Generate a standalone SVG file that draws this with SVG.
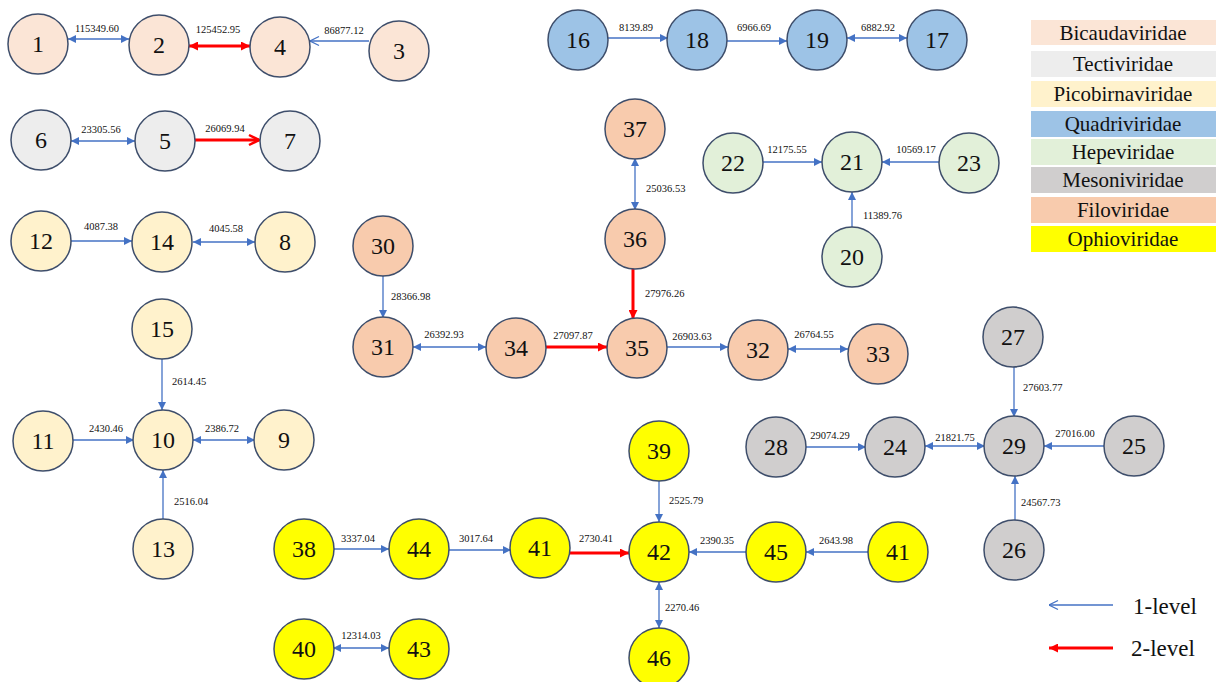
<svg xmlns="http://www.w3.org/2000/svg" width="1216" height="682" viewBox="0 0 1216 682">
<style>
text{font-family:"Liberation Serif","Times New Roman",serif;fill:#111}
.n circle{stroke:#3E4E6B;stroke-width:1.5}
.n text{font-size:24px;text-anchor:middle;dominant-baseline:central}
.bic circle{fill:#FBE5D6}.tec circle{fill:#EDEDED}.pic circle{fill:#FFF2CC}.qua circle{fill:#9DC3E6}
.hep circle{fill:#E2F0D9}.mes circle{fill:#D0CECE}.fil circle{fill:#F8CBAD}.oph circle{fill:#FFFF00}
.b{stroke:#4472C4;stroke-width:1.3;fill:none}
.r{stroke:#FF0000;stroke-width:3;fill:none}
.bf{marker-end:url(#ab)}.bb{marker-start:url(#ab);marker-end:url(#ab)}.bo{marker-end:url(#abo)}
.rf{marker-end:url(#ar)}.rb{marker-start:url(#ar);marker-end:url(#ar)}.ro{marker-end:url(#aro)}
.lbl{font-size:10.5px;text-anchor:middle}
.lbs{font-size:10.5px;text-anchor:start}
.leg text{font-size:21px;text-anchor:middle;dominant-baseline:central}
</style>
<defs>
<marker id="ab" viewBox="0 0 10 10" refX="10" refY="5" markerUnits="userSpaceOnUse" markerWidth="9" markerHeight="8" orient="auto-start-reverse"><path d="M0,0 L10,5 L0,10 z" fill="#4472C4"/></marker>
<marker id="abo" viewBox="0 0 10 10" refX="10" refY="5" markerUnits="userSpaceOnUse" markerWidth="10" markerHeight="12" orient="auto-start-reverse"><path d="M1,0.5 L10,5 L1,9.5" fill="none" stroke="#4472C4" stroke-width="1.3"/></marker>
<marker id="ar" viewBox="0 0 10 10" refX="10" refY="5" markerUnits="userSpaceOnUse" markerWidth="10" markerHeight="9" orient="auto-start-reverse"><path d="M0,0 L10,5 L0,10 z" fill="#FF0000"/></marker>
<marker id="aro" viewBox="0 0 12 12" refX="11" refY="6" markerUnits="userSpaceOnUse" markerWidth="12" markerHeight="14" orient="auto"><path d="M1,1 L11,6 L1,11" fill="none" stroke="#FF0000" stroke-width="2.5"/></marker>
</defs>
<rect width="1216" height="682" fill="#fff"/>
<g id="connectors">
<line class="b bb" x1="68" y1="39" x2="129" y2="39"/>
<line class="r rb" x1="189" y1="46" x2="250" y2="46"/>
<line class="b bo" x1="369" y1="41" x2="310" y2="41"/>
<line class="b bb" x1="71" y1="141" x2="135" y2="141"/>
<line class="r ro" x1="195" y1="140" x2="259" y2="140"/>
<line class="b bf" x1="70" y1="241" x2="132" y2="241"/>
<line class="b bb" x1="193" y1="242" x2="255" y2="242"/>
<line class="b bf" x1="162" y1="358" x2="162" y2="410"/>
<line class="b bf" x1="73" y1="440" x2="134" y2="440"/>
<line class="b bb" x1="193" y1="440" x2="255" y2="440"/>
<line class="b bf" x1="163" y1="520" x2="163" y2="470"/>
<line class="b bf" x1="607" y1="38" x2="668" y2="38"/>
<line class="b bf" x1="727" y1="41" x2="787" y2="41"/>
<line class="b bb" x1="847" y1="38" x2="907" y2="38"/>
<line class="b bb" x1="635" y1="158" x2="635" y2="210"/>
<line class="r rf" x1="633" y1="268" x2="633" y2="319"/>
<line class="b bf" x1="383" y1="275" x2="383" y2="318"/>
<line class="b bb" x1="413" y1="347" x2="486" y2="347"/>
<line class="r rf" x1="545" y1="347" x2="607" y2="347"/>
<line class="b bf" x1="667" y1="347" x2="728" y2="347"/>
<line class="b bb" x1="788" y1="349" x2="848" y2="349"/>
<line class="b bf" x1="763" y1="162" x2="822" y2="162"/>
<line class="b bf" x1="939" y1="162" x2="882" y2="162"/>
<line class="b bf" x1="852" y1="227" x2="852" y2="192"/>
<line class="b bf" x1="1014" y1="367" x2="1014" y2="417"/>
<line class="b bf" x1="806" y1="447" x2="866" y2="447"/>
<line class="b bb" x1="925" y1="446" x2="985" y2="446"/>
<line class="b bf" x1="1104" y1="446" x2="1044" y2="446"/>
<line class="b bf" x1="1015" y1="520" x2="1015" y2="476"/>
<line class="b bf" x1="659" y1="481" x2="659" y2="522"/>
<line class="b bf" x1="333" y1="549" x2="389" y2="549"/>
<line class="b bf" x1="448" y1="550" x2="511" y2="550"/>
<line class="r rf" x1="570" y1="553" x2="629" y2="553"/>
<line class="b bf" x1="746" y1="552" x2="689" y2="552"/>
<line class="b bf" x1="868" y1="552" x2="806" y2="552"/>
<line class="b bb" x1="659" y1="582" x2="659" y2="628"/>
<line class="b bb" x1="333" y1="648" x2="389" y2="648"/>
</g>
<g id="labels">
<text class="lbl" x="97" y="32">115349.60</text>
<text class="lbl" x="218" y="33">125452.95</text>
<text class="lbl" x="344" y="34">86877.12</text>
<text class="lbl" x="101" y="133">23305.56</text>
<text class="lbl" x="225" y="132">26069.94</text>
<text class="lbl" x="101" y="230">4087.38</text>
<text class="lbl" x="226" y="232">4045.58</text>
<text class="lbs" x="172" y="385">2614.45</text>
<text class="lbl" x="106" y="432">2430.46</text>
<text class="lbl" x="222" y="432">2386.72</text>
<text class="lbs" x="174" y="505">2516.04</text>
<text class="lbl" x="636" y="31">8139.89</text>
<text class="lbl" x="754" y="31">6966.69</text>
<text class="lbl" x="878" y="31">6882.92</text>
<text class="lbs" x="646" y="192">25036.53</text>
<text class="lbs" x="645" y="297">27976.26</text>
<text class="lbs" x="391" y="300">28366.98</text>
<text class="lbl" x="444" y="338">26392.93</text>
<text class="lbl" x="573" y="339">27097.87</text>
<text class="lbl" x="692" y="340">26903.63</text>
<text class="lbl" x="814" y="338">26764.55</text>
<text class="lbl" x="787" y="153">12175.55</text>
<text class="lbl" x="916" y="153">10569.17</text>
<text class="lbs" x="863" y="219">11389.76</text>
<text class="lbs" x="1023" y="391">27603.77</text>
<text class="lbl" x="830" y="439">29074.29</text>
<text class="lbl" x="955" y="441">21821.75</text>
<text class="lbl" x="1075" y="437">27016.00</text>
<text class="lbs" x="1021" y="506">24567.73</text>
<text class="lbs" x="669" y="504">2525.79</text>
<text class="lbl" x="358" y="542">3337.04</text>
<text class="lbl" x="476" y="542">3017.64</text>
<text class="lbl" x="596" y="542">2730.41</text>
<text class="lbl" x="717" y="544">2390.35</text>
<text class="lbl" x="836" y="544">2643.98</text>
<text class="lbs" x="665" y="611">2270.46</text>
<text class="lbl" x="361" y="639">12314.03</text>
</g>
<g id="n1" class="n bic"><circle cx="38" cy="44" r="30"/><text x="38" y="44">1</text></g>
<g id="n2" class="n bic"><circle cx="159" cy="45" r="30"/><text x="159" y="45">2</text></g>
<g id="n4" class="n bic"><circle cx="280" cy="47" r="30"/><text x="280" y="47">4</text></g>
<g id="n3" class="n bic"><circle cx="399" cy="51" r="30"/><text x="399" y="51">3</text></g>
<g id="n6" class="n tec"><circle cx="41" cy="140" r="30"/><text x="41" y="140">6</text></g>
<g id="n5" class="n tec"><circle cx="165" cy="141" r="30"/><text x="165" y="141">5</text></g>
<g id="n7" class="n tec"><circle cx="290" cy="141" r="30"/><text x="290" y="141">7</text></g>
<g id="n12" class="n pic"><circle cx="41" cy="241" r="30"/><text x="41" y="241">12</text></g>
<g id="n14" class="n pic"><circle cx="162" cy="242" r="30"/><text x="162" y="242">14</text></g>
<g id="n8" class="n pic"><circle cx="285" cy="242" r="30"/><text x="285" y="242">8</text></g>
<g id="n15" class="n pic"><circle cx="162" cy="329" r="30"/><text x="162" y="329">15</text></g>
<g id="n11" class="n pic"><circle cx="43" cy="441" r="30"/><text x="43" y="441">11</text></g>
<g id="n10" class="n pic"><circle cx="163" cy="440" r="30"/><text x="163" y="440">10</text></g>
<g id="n9" class="n pic"><circle cx="284" cy="440" r="30"/><text x="284" y="440">9</text></g>
<g id="n13" class="n pic"><circle cx="163" cy="549" r="30"/><text x="163" y="549">13</text></g>
<g id="n16" class="n qua"><circle cx="578" cy="40" r="30"/><text x="578" y="40">16</text></g>
<g id="n18" class="n qua"><circle cx="697" cy="40" r="30"/><text x="697" y="40">18</text></g>
<g id="n19" class="n qua"><circle cx="817" cy="40" r="30"/><text x="817" y="40">19</text></g>
<g id="n17" class="n qua"><circle cx="937" cy="40" r="30"/><text x="937" y="40">17</text></g>
<g id="n37" class="n fil"><circle cx="635" cy="129" r="30"/><text x="635" y="129">37</text></g>
<g id="n36" class="n fil"><circle cx="635" cy="239" r="30"/><text x="635" y="239">36</text></g>
<g id="n30" class="n fil"><circle cx="383" cy="246" r="30"/><text x="383" y="246">30</text></g>
<g id="n31" class="n fil"><circle cx="383" cy="347" r="30"/><text x="383" y="347">31</text></g>
<g id="n34" class="n fil"><circle cx="516" cy="348" r="30"/><text x="516" y="348">34</text></g>
<g id="n35" class="n fil"><circle cx="637" cy="348" r="30"/><text x="637" y="348">35</text></g>
<g id="n32" class="n fil"><circle cx="758" cy="350" r="30"/><text x="758" y="350">32</text></g>
<g id="n33" class="n fil"><circle cx="878" cy="354" r="30"/><text x="878" y="354">33</text></g>
<g id="n22" class="n hep"><circle cx="733" cy="163" r="30"/><text x="733" y="163">22</text></g>
<g id="n21" class="n hep"><circle cx="852" cy="162" r="30"/><text x="852" y="162">21</text></g>
<g id="n23" class="n hep"><circle cx="969" cy="163" r="30"/><text x="969" y="163">23</text></g>
<g id="n20" class="n hep"><circle cx="852" cy="257" r="30"/><text x="852" y="257">20</text></g>
<g id="n27" class="n mes"><circle cx="1013" cy="337" r="30"/><text x="1013" y="337">27</text></g>
<g id="n28" class="n mes"><circle cx="776" cy="447" r="30"/><text x="776" y="447">28</text></g>
<g id="n24" class="n mes"><circle cx="895" cy="447" r="30"/><text x="895" y="447">24</text></g>
<g id="n29" class="n mes"><circle cx="1014" cy="446" r="30"/><text x="1014" y="446">29</text></g>
<g id="n25" class="n mes"><circle cx="1134" cy="446" r="30"/><text x="1134" y="446">25</text></g>
<g id="n26" class="n mes"><circle cx="1014" cy="550" r="30"/><text x="1014" y="550">26</text></g>
<g id="n39" class="n oph"><circle cx="659" cy="451" r="30"/><text x="659" y="451">39</text></g>
<g id="n38" class="n oph"><circle cx="304" cy="549" r="30"/><text x="304" y="549">38</text></g>
<g id="n44" class="n oph"><circle cx="419" cy="549" r="30"/><text x="419" y="549">44</text></g>
<g id="n41a" class="n oph"><circle cx="540" cy="548" r="30"/><text x="540" y="548">41</text></g>
<g id="n42" class="n oph"><circle cx="659" cy="552" r="30"/><text x="659" y="552">42</text></g>
<g id="n45" class="n oph"><circle cx="776" cy="552" r="30"/><text x="776" y="552">45</text></g>
<g id="n41b" class="n oph"><circle cx="898" cy="552" r="30"/><text x="898" y="552">41</text></g>
<g id="n46" class="n oph"><circle cx="659" cy="658" r="30"/><text x="659" y="658">46</text></g>
<g id="n40" class="n oph"><circle cx="304" cy="649" r="30"/><text x="304" y="649">40</text></g>
<g id="n43" class="n oph"><circle cx="419" cy="649" r="30"/><text x="419" y="649">43</text></g>
<g id="legend" class="leg">
<rect x="1031" y="20" width="185" height="25" fill="#FBE5D6"/><text x="1123" y="33">Bicaudaviridae</text>
<rect x="1031" y="51" width="185" height="26" fill="#EDEDED"/><text x="1123" y="64">Tectiviridae</text>
<rect x="1031" y="81" width="185" height="26" fill="#FFF2CC"/><text x="1123" y="94">Picobirnaviridae</text>
<rect x="1031" y="111" width="185" height="26" fill="#9DC3E6"/><text x="1123" y="124">Quadriviridae</text>
<rect x="1031" y="139" width="185" height="26" fill="#E2F0D9"/><text x="1123" y="152">Hepeviridae</text>
<rect x="1031" y="167" width="185" height="26" fill="#D0CECE"/><text x="1123" y="180">Mesoniviridae</text>
<rect x="1031" y="197" width="185" height="26" fill="#F8CBAD"/><text x="1123" y="210">Filoviridae</text>
<rect x="1031" y="226" width="185" height="26" fill="#FFFF00"/><text x="1123" y="239">Ophioviridae</text>
<line class="b bo" x1="1113" y1="605" x2="1049" y2="605"/>
<text x="1165" y="606" style="font-size:23px">1-level</text>
<line class="r rf" x1="1113" y1="648" x2="1049" y2="648"/>
<text x="1163" y="648" style="font-size:23px">2-level</text>
</g>
</svg>
